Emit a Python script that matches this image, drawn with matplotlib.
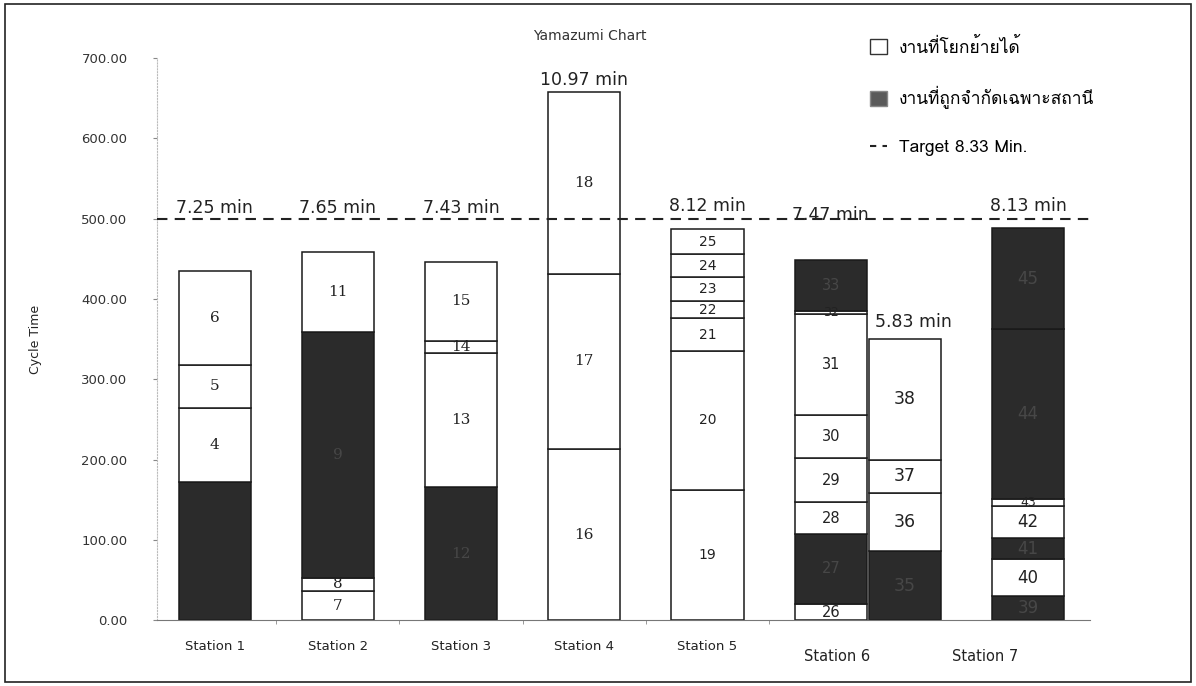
import matplotlib
matplotlib.use("Agg")
import matplotlib.pyplot as plt
from matplotlib.patches import Patch, Rectangle
from matplotlib.lines import Line2D

# Station names (station 6 is split over two bars)
stations = ["Station 1", "Station 2", "Station 3", "Station 4",
            "Station 5", "Station 6", "Station 7"]

# task numbers per bar, bottom to top
tasks = [
    ["", "4", "5", "6"],
    ["7", "8", "9", "11"],
    ["12", "13", "14", "15"],
    ["16", "17", "18"],
    ["19", "20", "21", "22", "23", "24", "25"],
    ["26", "27", "28", "29", "30", "31", "32", "33"],
    ["35", "36", "37", "38"],
    ["39", "40", "41", "42", "43", "44", "45"],
]
# task times in seconds
times = [
    [172, 93, 53, 117],
    [37, 16, 306, 100],
    [166, 167, 15, 98],
    [214, 217, 227],
    [163, 172, 41, 21, 30, 29, 31],
    [21, 87, 39, 55, 54, 126, 3, 63],
    [86, 73, 41, 150],
    [30, 46, 27, 40, 8, 212, 125],
]
# 1 = task bound to the station, 0 = movable task
fixed = [
    [1, 0, 0, 0],
    [0, 0, 1, 0],
    [1, 0, 0, 0],
    [0, 0, 0],
    [0, 0, 0, 0, 0, 0, 0],
    [0, 1, 0, 0, 0, 0, 0, 1],
    [1, 0, 0, 0],
    [1, 0, 1, 0, 0, 1, 1],
]
target_sec = 500

# layout
bar_x = [0, 1, 2, 3, 4, 5, 5.6, 6.6]
tick_x = [0, 1, 2, 3, 4, 5.05, 6.25]
serif_bars = [0, 1, 2, 3]
inner_size = [11, 11, 11, 11, 10, 10.5, 12.5, 12]
label_pad = [1, 1, 1, 2, 2.5, -3.5, 6, 3]
thai_family = ["Loma", "IBM Plex Sans Thai Looped", "DejaVu Sans"]

dark = "#2b2b2b"
fig = plt.figure(figsize=(11.96, 6.86), dpi=100)
ax = fig.add_axes([0.131, 0.0955, 0.78, 0.82])

for i, (x, segs) in enumerate(zip(bar_x, times)):
    bottom = 0
    for t, v, fx in zip(tasks[i], segs, fixed[i]):
        ax.bar(x, v, bottom=bottom, width=0.585, color=dark if fx else "white",
               edgecolor="#1a1a1a", linewidth=1.1, zorder=2)
        if t:
            fam = "DejaVu Serif" if i in serif_bars else "DejaVu Sans"
            ax.text(x, bottom + v / 2, t, ha="center", va="center",
                    fontsize=inner_size[i] if v > 12 else 9, family=fam,
                    color="#474747" if fx else "#222222", zorder=3)
        bottom += v
    # totals near the target sit on the target line
    base = max(bottom, target_sec) if bottom > 0.8 * target_sec else bottom
    lx = x + 0.07 if i == 6 else x
    ax.annotate("{:.2f} min".format(bottom / 60), xy=(lx, base),
                xytext=(0, label_pad[i]), textcoords="offset points",
                ha="center", va="bottom", fontsize=12.5, color="#222222", zorder=1)

ax.axhline(target_sec, color="#222222", lw=1.5, ls=(0, (5, 3.5)), zorder=4)

ax.set_xlim(-0.47, 7.1)
ax.set_ylim(0, 700)
ax.set_yticks(range(0, 701, 100))
ax.set_yticklabels(["{:.2f}".format(v) for v in range(0, 701, 100)],
                   fontsize=9.5, color="#333333")
ax.tick_params(axis="y", length=3, color="#888888", pad=18)
ax.set_xticks(tick_x[:5])
ax.set_xticklabels(stations[:5], fontsize=9.5, color="#222222")
ax.set_xticks([0.5, 1.5, 2.5, 3.5, 4.5], minor=True)
ax.tick_params(axis="x", which="major", length=0, pad=14)
ax.tick_params(axis="x", which="minor", length=3, color="#888888")
for xx, name in zip(tick_x[5:], stations[5:]):
    ax.text(xx, -0.05, name, transform=ax.get_xaxis_transform(),
            ha="center", va="top", fontsize=10.5, color="#222222")

ax.set_ylabel("Cycle Time", fontsize=9, color="#222222", labelpad=28)
for s in ["top", "right"]:
    ax.spines[s].set_visible(False)
ax.spines["left"].set_color("#bbbbbb")
ax.spines["left"].set_linestyle(":")
ax.spines["bottom"].set_color("#777777")

fig.text(0.493, 0.948, "Yamazumi Chart", ha="center", va="center",
         fontsize=10, color="#333333")

handles = [Patch(facecolor="white", edgecolor="#333333", lw=1),
           Patch(facecolor="#5a5a5a", edgecolor="#888888", lw=1),
           Line2D([], [], color="#222222", lw=1.5, ls=(0, (3, 3)))]
labels = ["งานที่โยกย้ายได้", "งานที่ถูกจำกัดเฉพาะสถานี",
          "Target {:.2f} Min.".format(target_sec / 60)]
fig.legend(handles, labels, loc="upper left", bbox_to_anchor=(0.714, 0.968),
           frameon=False, prop={"family": thai_family, "size": 12.5},
           labelspacing=1.7, handlelength=1.0, handleheight=1.0,
           handletextpad=0.7)

fig.patches.append(Rectangle((0.004, 0.006), 0.992, 0.988, transform=fig.transFigure,
                             fill=False, edgecolor="#222222", lw=1.2))

fig.savefig("out.png", dpi=100)
